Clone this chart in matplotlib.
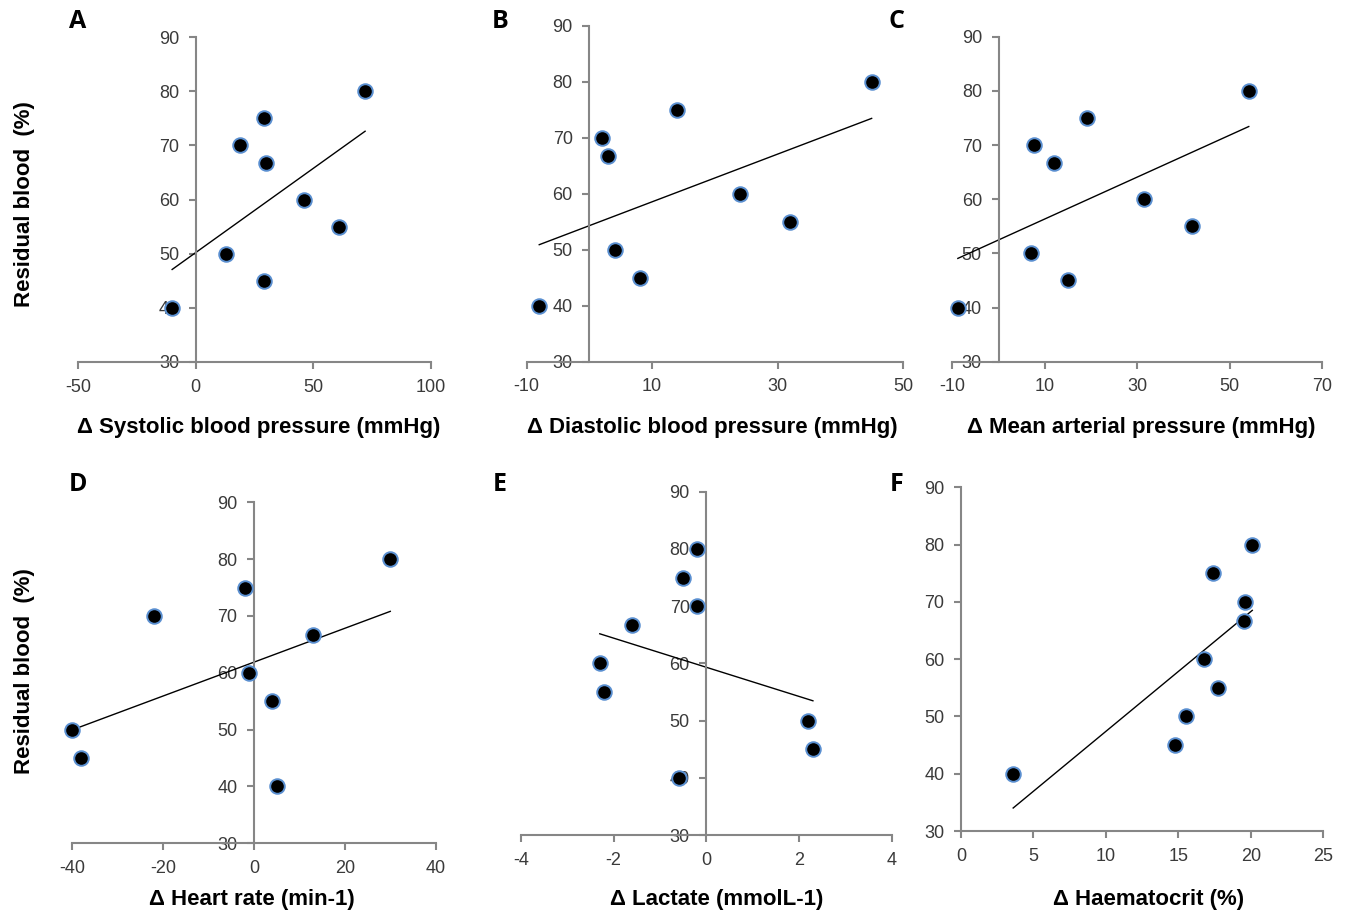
import numpy as np
import matplotlib
matplotlib.use("Agg")
import matplotlib.pyplot as plt

plt.rcParams['font.family'] = ['Liberation Sans', 'DejaVu Sans']
plt.rcParams['axes.unicode_minus'] = False

# residual blood (%) for the 9 subjects, same order in every panel
resid = [40, 45, 50, 55, 60, 66.7, 70, 75, 80]

d_sbp = [-10, 29, 13, 61, 46, 30, 19, 29, 72]
d_dbp = [-8, 8, 4, 32, 24, 3, 2, 14, 45]
d_map = [-8.8, 15, 7, 41.8, 31.4, 12, 7.7, 19.1, 54.1]
d_hr = [5, -38, -40, 4, -1, 13, -22, -2, 30]
d_lac = [-0.6, 2.3, 2.2, -2.2, -2.3, -1.6, -0.2, -0.5, -0.2]
d_hct = [3.6, 14.8, 15.5, 17.75, 16.8, 19.5, 19.6, 17.4, 20.1]

letters = ['A', 'B', 'C', 'D', 'E', 'F']
xlabels = ['\u0394 Systolic blood pressure (mmHg)',
           '\u0394 Diastolic blood pressure (mmHg)',
           '\u0394 Mean arterial pressure (mmHg)',
           '\u0394 Heart rate (min-1)',
           '\u0394 Lactate (mmolL-1)',
           '\u0394 Haematocrit (%)']
xticks = [[-50, 0, 50, 100],
          [-10, 10, 30, 50],
          [-10, 10, 30, 50, 70],
          [-40, -20, 0, 20, 40],
          [-4, -2, 0, 2, 4],
          [0, 5, 10, 15, 20, 25]]
yticks = [30, 40, 50, 60, 70, 80, 90]
xdata = [d_sbp, d_dbp, d_map, d_hr, d_lac, d_hct]

W, H = 1348, 917
# axes boxes in pixels: left, right, top, bottom
boxes = [(78, 431, 37, 362),
         (526.7, 903, 26, 361.7),
         (952.3, 1322.3, 36.7, 361.7),
         (72.3, 435.7, 502.3, 843.3),
         (521, 891.7, 491.7, 835),
         (961, 1323.3, 487.3, 831)]
letter_pos = [(78, 22), (500, 22), (897, 22), (78, 485), (500, 485), (897, 485)]
xlabel_pos = [(259, 427), (712, 428), (1141, 427), (252, 900), (717, 900), (1149, 900)]

fig = plt.figure(figsize=(W / 100, H / 100), dpi=100)
gray = '#868686'

for i in range(6):
    l, r, t, b = boxes[i]
    ax = fig.add_axes([l / W, 1 - b / H, (r - l) / W, (b - t) / H])
    x = np.array(xdata[i])
    y = np.array(resid)

    coef = np.polyfit(x, y, 1)
    xs = np.array([x.min(), x.max()])
    ax.plot(xs, np.polyval(coef, xs), color='black', lw=1.0, zorder=2)
    ax.scatter(x, y, s=110, color='black', edgecolors='#5a8fd0', linewidths=1.4,
               zorder=3, clip_on=False)

    ax.set_xlim(xticks[i][0], xticks[i][-1])
    ax.set_ylim(30, 90)
    ax.set_xticks(xticks[i])
    ax.set_yticks(yticks)
    for s in ['top', 'right']:
        ax.spines[s].set_visible(False)
    ax.spines['left'].set_position(('data', 0))
    for s in ['left', 'bottom']:
        ax.spines[s].set_color(gray)
        ax.spines[s].set_linewidth(1.5)
    ax.tick_params(axis='both', colors=gray, length=5, width=1.5,
                   labelsize=13, labelcolor='#3a3a3a')
    ax.tick_params(axis='y', pad=7)
    ax.tick_params(axis='x', pad=7)
    ax.patch.set_alpha(0)

    fig.text(letter_pos[i][0] / W, 1 - letter_pos[i][1] / H, letters[i],
             family=['Open Sans', 'DejaVu Sans'], fontweight='bold', fontsize=18,
             ha='center', va='center')
    fig.text(xlabel_pos[i][0] / W, 1 - xlabel_pos[i][1] / H, xlabels[i],
             fontweight='bold', fontsize=16, ha='center', va='center')

fig.text(25 / W, 1 - 204 / H, 'Residual blood  (%)', rotation=90,
         fontweight='bold', fontsize=16, ha='center', va='center')
fig.text(25 / W, 1 - 671 / H, 'Residual blood  (%)', rotation=90,
         fontweight='bold', fontsize=16, ha='center', va='center')

fig.savefig('out.png', dpi=100)
